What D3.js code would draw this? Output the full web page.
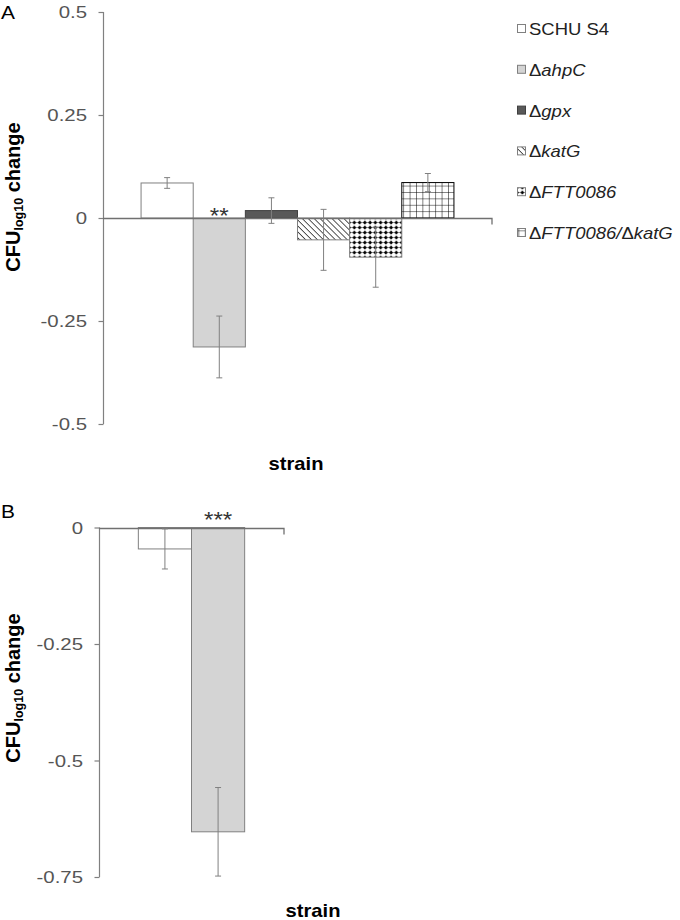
<!DOCTYPE html>
<html><head><meta charset="utf-8">
<script src="https://cdn.jsdelivr.net/npm/d3@7"></script>
<style>body{margin:0;background:#fff}svg{display:block}</style>
</head><body>
<script>
// ---- data ----
const strainsA = ["SCHU S4","ΔahpC","Δgpx","ΔkatG","ΔFTT0086","ΔFTT0086/ΔkatG"];
const valuesA  = [0.085,-0.313,0.018,-0.053,-0.095,0.086];
const errorsA  = [0.013,0.075,0.031,0.074,0.073,0.022];
const ticksA   = [0.5,0.25,0,-0.25,-0.5];
const tickLabelsA = ["0.5","0.25","0","-0.25","-0.5"];
const strainsB = ["SCHU S4","ΔahpC"];
const valuesB  = [-0.046,-0.653];
const errorsB  = [0.043,0.095];
const ticksB   = [0,-0.25,-0.5,-0.75];
const tickLabelsB = ["0","-0.25","-0.5","-0.75"];
const legendLabels = [
  [["SCHU S4",false]],
  [["Δ",false],["ahpC",true]],
  [["Δ",false],["gpx",true]],
  [["Δ",false],["katG",true]],
  [["Δ",false],["FTT0086",true]],
  [["Δ",false],["FTT0086/",true],["Δ",false],["katG",true]]
];

const W=680,H=920;
const FONT="'Liberation Sans', Arial, sans-serif";
const SX=1.15;
const svg=d3.select("body").append("svg").attr("width",W).attr("height",H);
const defs=svg.append("defs");

// patterns
const ph=defs.append("pattern").attr("id","hatch").attr("patternUnits","userSpaceOnUse")
  .attr("width",4.2).attr("height",4.2).attr("patternTransform","rotate(-45)");
ph.append("rect").attr("width",4.2).attr("height",4.2).attr("fill","#fff");
ph.append("line").attr("x1",0).attr("y1",0).attr("x2",0).attr("y2",4.2).attr("stroke","#000").attr("stroke-width",1.3);

const pd=defs.append("pattern").attr("id","dots").attr("patternUnits","userSpaceOnUse")
  .attr("width",5.25).attr("height",5).attr("x",0).attr("y",0);
pd.append("rect").attr("width",5.25).attr("height",5).attr("fill","#fff");
pd.append("line").attr("x1",0).attr("x2",5.25).attr("y1",2.5).attr("y2",2.5).attr("stroke","#000").attr("stroke-width",0.4);
pd.append("line").attr("x1",2.6).attr("x2",2.6).attr("y1",0).attr("y2",5).attr("stroke","#000").attr("stroke-width",0.4);
pd.append("circle").attr("cx",2.6).attr("cy",2.5).attr("r",1.5).attr("fill","#000");

const pg=defs.append("pattern").attr("id","grid").attr("patternUnits","userSpaceOnUse")
  .attr("width",6.4).attr("height",6.4);
pg.append("rect").attr("width",6.4).attr("height",6.4).attr("fill","#fff");
pg.append("path").attr("d","M0,0H6.4M0,0V6.4").attr("stroke","#000").attr("stroke-width",1).attr("fill","none");

const fills=["#ffffff","#d4d4d4","#595959","url(#hatch)","url(#dots)","url(#grid)"];
const strokes=["#808080","#808080","#404040","#808080","#808080","#000"];

function stext(g,x,y,str,opts){
  return g.append("text").attr("transform",`translate(${x},${y}) scale(${opts.sx||SX},1)`)
    .attr("font-family",FONT).attr("font-size",opts.size||17)
    .attr("fill",opts.fill||"#000").attr("text-anchor",opts.anchor||"start")
    .attr("font-weight",opts.weight||"normal").text(str);
}

function panel(cfg){
  const g=svg.append("g");
  const y=d3.scaleLinear().domain(cfg.domain).range(cfg.yrange);
  const x=d3.scaleBand().domain(cfg.cats).range(cfg.xrange).paddingInner(0).paddingOuter(cfg.pad);
  const ax=g.append("g").attr("transform",`translate(${cfg.xrange[0]+0.5},0)`)
    .call(d3.axisLeft(y).tickValues(cfg.ticks).tickSize(5).tickFormat(()=>""));
  ax.selectAll("path,line").attr("stroke","#808080").attr("stroke-width",1.2);
  ax.select(".domain").attr("d",`M0,${y.range()[0]}V${y.range()[1]}`);
  cfg.ticks.forEach((t,i)=>{
    stext(g,cfg.xrange[0]-16,y(t)+6,cfg.tickLabels[i],{anchor:"end",fill:"#555",size:17,sx:1.2});
  });
  g.selectAll("rect.bar").data(cfg.values).join("rect").attr("class","bar")
    .attr("x",(d,i)=>x(cfg.cats[i])).attr("width",x.bandwidth())
    .attr("y",d=>y(Math.max(0,d))).attr("height",d=>Math.abs(y(d)-y(0)))
    .attr("fill",(d,i)=>fills[i]).attr("stroke",(d,i)=>strokes[i]).attr("stroke-width",1);
  const z=Math.round(y(0))+0.5;
  g.append("path").attr("d",`M${cfg.xrange[0]},${z}H${cfg.xrange[1]}V${z+6}`)
    .attr("stroke","#707070").attr("stroke-width",1.3).attr("fill","none");
  cfg.values.forEach((v,i)=>{
    const cx=x(cfg.cats[i])+x.bandwidth()/2, e=cfg.errors[i];
    const y1=y(v+e), y2=y(v-e);
    const eg=g.append("g").attr("stroke","#808080").attr("stroke-width",1);
    eg.append("line").attr("x1",cx).attr("x2",cx).attr("y1",y1).attr("y2",y2);
    eg.append("line").attr("x1",cx-3).attr("x2",cx+3).attr("y1",y1).attr("y2",y1);
    eg.append("line").attr("x1",cx-3).attr("x2",cx+3).attr("y1",y2).attr("y2",y2);
  });
  const si=cfg.sigIndex;
  stext(g,x(cfg.cats[si])+x.bandwidth()/2,cfg.sigY,cfg.sig,{anchor:"middle",fill:"#333",size:22,sx:1.1});
  const yl=g.append("text").attr("transform",`translate(${cfg.ylabX},${cfg.ylabY}) rotate(-90)`)
    .attr("font-family",FONT).attr("font-weight","bold").attr("font-size",20).attr("text-anchor","middle");
  yl.append("tspan").text("CFU");
  yl.append("tspan").attr("font-size",12.5).attr("dy",3).text("log10");
  yl.append("tspan").attr("dy",-3).text(" change");
  stext(g,cfg.xlabX,cfg.xlabY,"strain",{anchor:"middle",weight:"bold",size:18,sx:1.12});
  stext(g,1,cfg.letterY,cfg.letter,{size:19,sx:1.1});
  return {x,y};
}

panel({cats:strainsA,values:valuesA,errors:errorsA,domain:[-0.5,0.5],yrange:[424,12],
  xrange:[103,492],pad:0.73,ticks:ticksA,tickLabels:tickLabelsA,sig:"**",sigIndex:1,sigY:223,
  ylabX:20,ylabY:197,xlabX:296,xlabY:470,letter:"A",letterY:19});
panel({cats:strainsB,values:valuesB,errors:errorsB,domain:[-0.75,0],yrange:[877,527.5],
  xrange:[99,284],pad:0.74,ticks:ticksB,tickLabels:tickLabelsB,sig:"***",sigIndex:1,sigY:527,
  ylabX:20,ylabY:688,xlabX:313,xlabY:917,letter:"B",letterY:518});

const lg=svg.append("g");
const rowY=d3.scalePoint().domain(d3.range(legendLabels.length)).range([29,233]);
legendLabels.forEach((parts,i)=>{
  const cy=rowY(i);
  lg.append("rect").attr("x",517.5).attr("y",cy-4.5).attr("width",8).attr("height",8)
    .attr("fill",fills[i]).attr("stroke",i===2?"#404040":"#808080").attr("stroke-width",1);
  const t=lg.append("text").attr("transform",`translate(529,${cy+6}) scale(1.12,1)`)
    .attr("font-family",FONT).attr("font-size",16.5).attr("fill","#222");
  parts.forEach(p=>t.append("tspan").attr("font-style",p[1]?"italic":"normal").text(p[0]));
});
</script>
</body></html>
